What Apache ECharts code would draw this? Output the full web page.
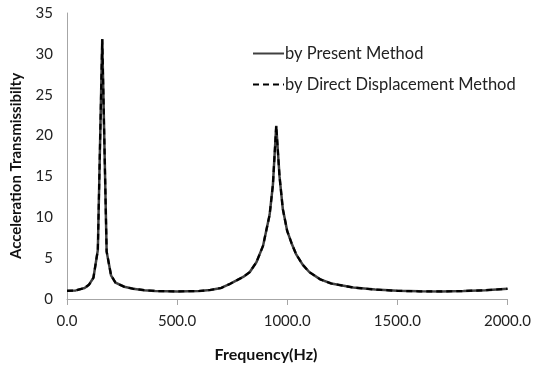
<!DOCTYPE html>
<html>
<head>
<meta charset="utf-8">
<script src="https://cdn.jsdelivr.net/npm/echarts@6/dist/echarts.min.js"></script>
<style>
  html, body { margin: 0; padding: 0; background: #fff; }
  #chart { width: 534px; height: 368px; }
</style>
</head>
<body>
<div id="chart"></div>
<script>
// frequency (Hz) and transmissibility
const freqs = [0, 40, 80, 100, 120, 140, 160, 180, 200, 220, 260, 300, 350, 400, 500,
  600, 650, 700, 740, 800, 830, 860, 890, 920, 935, 950, 965, 980, 1000, 1020, 1040,
  1070, 1100, 1150, 1200, 1300, 1400, 1500, 1600, 1700, 1800, 1900, 2000];
const present = [1.0, 1.05, 1.35, 1.75, 2.6, 6.0, 31.8, 5.8, 2.9, 2.0, 1.5, 1.25, 1.08, 0.98, 0.93,
  0.98, 1.1, 1.35, 1.85, 2.7, 3.3, 4.5, 6.5, 10.3, 14, 21.2, 15, 11, 8.3, 6.8, 5.5,
  4.2, 3.3, 2.4, 1.9, 1.4, 1.15, 1.0, 0.94, 0.93, 0.97, 1.08, 1.25];
// direct displacement method overlaps the present method
const direct = [1.0, 1.05, 1.35, 1.75, 2.6, 6.0, 31.8, 5.8, 2.9, 2.0, 1.5, 1.25, 1.08, 0.98, 0.93,
  0.98, 1.1, 1.35, 1.85, 2.7, 3.3, 4.5, 6.5, 10.3, 14, 21.2, 15, 11, 8.3, 6.8, 5.5,
  4.2, 3.3, 2.4, 1.9, 1.4, 1.15, 1.0, 0.94, 0.93, 0.97, 1.08, 1.25];
const seriesNames = ['by Present Method', 'by Direct Displacement Method'];
const xTitle = 'Frequency(Hz)';
const yTitle = 'Acceleration Transmissibilty';

const font = 'Lato, "Open Sans", sans-serif';
const chart = echarts.init(document.getElementById('chart'));

chart.setOption({
  animation: false,
  grid: { left: 67, right: 25, top: 13, bottom: 69 },
  legend: {
    orient: 'vertical',
    left: 247,
    top: 40,
    itemWidth: 31,
    itemHeight: 14,
    itemGap: 14,
    itemStyle: { opacity: 0 }, // line only, no marker
    textStyle: { fontFamily: font, fontSize: 16.5, color: '#222', padding: [0, 0, 0, -4] },
    data: seriesNames
  },
  xAxis: {
    type: 'value',
    min: 0,
    max: 2000,
    interval: 500,
    splitLine: { show: false },
    axisLine: { lineStyle: { color: '#a6a6a6', width: 1 } },
    axisTick: { show: true, length: 6, lineStyle: { color: '#a6a6a6' } },
    axisLabel: {
      fontFamily: font, fontSize: 15, color: '#222', margin: 15,
      formatter: (v) => v.toFixed(1)
    }
  },
  yAxis: {
    type: 'value',
    min: 0,
    max: 35,
    interval: 5,
    splitLine: { show: false },
    axisLine: { show: true, lineStyle: { color: '#a6a6a6', width: 1 } },
    axisTick: { show: false },
    axisLabel: { fontFamily: font, fontSize: 15, color: '#222', margin: 14 }
  },
  graphic: [
    {
      type: 'text',
      x: 16, y: 166,
      rotation: Math.PI / 2,
      style: {
        text: yTitle, fontFamily: font, fontSize: 15, fontWeight: 'bold',
        fill: '#111', align: 'center', verticalAlign: 'middle'
      }
    },
    {
      type: 'text',
      x: 266, y: 355,
      style: {
        text: xTitle, fontFamily: font, fontSize: 16, fontWeight: 'bold',
        fill: '#111', align: 'center', verticalAlign: 'middle'
      }
    }
  ],
  series: [
    {
      name: seriesNames[0],
      type: 'line',
      symbol: 'none',
      data: freqs.map((f, i) => [f, present[i]]),
      lineStyle: { color: '#404040', width: 2.5, type: 'solid' },
      itemStyle: { color: '#404040' },
      z: 2
    },
    {
      name: seriesNames[1],
      type: 'line',
      symbol: 'none',
      data: freqs.map((f, i) => [f, direct[i]]),
      lineStyle: { color: '#000', width: 2.2, type: [6, 4] },
      itemStyle: { color: '#000' },
      z: 3
    }
  ]
});
</script>
</body>
</html>
